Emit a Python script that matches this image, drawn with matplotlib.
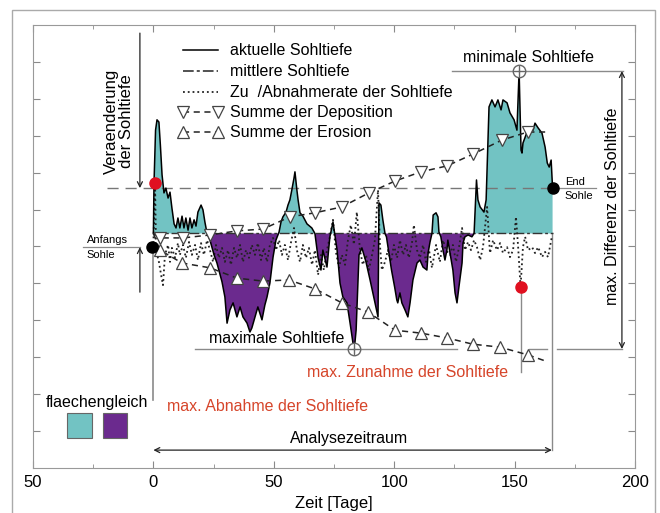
import matplotlib.pyplot as plt
from matplotlib.patches import Rectangle
from matplotlib.ticker import FuncFormatter, MultipleLocator
import numpy as np

plt.rcParams['font.family'] = ['Liberation Sans', 'DejaVu Sans']

# aktuelle Sohltiefe, relativ zur mittleren Sohle (0)
bed_days = [0.0, 0.25, 0.9, 1.5, 2.3, 2.9, 3.6, 4.4, 5.2, 6.1, 6.9, 7.7, 8.6, 9.4, 10.2, 11.0, 11.9, 12.7,
            13.5, 14.4, 15.2, 16.0, 16.9, 17.7, 18.5, 19.8, 20.6, 21.4, 22.3,
            23.5, 25.2, 26.4, 27.7, 28.5, 29.7, 30.6, 31.8, 33.1, 34.7, 36.0, 37.2, 38.9, 40.1, 40.9, 42.2,
            43.4, 45.1, 46.3, 47.2, 48.4, 49.7, 50.9, 52.2,
            53.0, 53.8, 55.1, 55.9, 56.7, 57.5, 58.4, 58.8, 59.6, 60.1, 60.9, 62.1, 63.8, 65.8, 67.1,
            68.4, 69.6, 70.4, 72.1, 73.3, 74.6, 76.3, 77.5, 78.7, 80.4, 81.7, 82.9, 83.5, 84.2, 85.4, 86.6,
            88.3, 90.0, 91.6, 93.3, 93.7, 94.5, 95.3, 96.2,
            96.8, 98.1, 98.9, 100.2, 101.1, 101.5, 102.4, 103.2, 104.5, 105.7, 106.6, 107.8, 109.5, 110.7,
            112.0, 113.6, 114.1, 114.9, 115.7,
            116.2, 117.4, 118.2, 118.6,
            119.4, 120.3, 121.1, 121.9, 122.3, 123.2, 124.4, 125.3, 126.1, 126.9, 128.2, 128.6, 129.4, 130.7,
            132.3, 133.2,
            133.8, 134.2, 134.8, 135.7, 137.3, 138.2, 139.0, 139.4, 140.6, 141.9, 143.1, 144.4, 145.2, 146.9,
            148.1, 149.8, 151.0, 151.9, 152.7, 153.1, 153.5, 155.2, 156.4, 157.7, 158.5, 159.8, 161.4, 162.7,
            163.6, 164.4, 165.2, 165.8]
bed_depth = [0.0, 13.4, 28.0, 30.8, 30.2, 24.0, 15.9, 11.0, 12.3, 9.6, 11.2, 6.9, 2.6, 1.5, 4.2, 1.5, 4.7, 1.5,
             4.2, 0.9, 4.2, 1.5, 3.7, 2.0, 5.8, 7.7, 6.4, 3.1, 0.0,
             -1.8, -5.8, -8.0, -11.2, -13.1, -17.2, -24.3, -20.7, -18.8, -22.6, -19.9, -22.6, -24.3, -26.7, -25.6,
             -22.6, -19.9, -23.4, -19.4, -17.2, -13.4, -6.4, -1.8, 0.4,
             3.1, 4.5, 5.8, 7.7, 9.1, 11.8, 15.0, 16.7, 11.8, 9.1, 5.6, 4.7, 2.6, 1.5, 0.0,
             -6.6, -9.9, -4.5, -9.1, -0.9, 3.1, -4.5, -13.4, -17.2, -18.8, -24.3, -29.7, -31.0, -26.2, -5.8, -3.9,
             -7.7, -12.6, -17.5, -22.6, 8.3, 7.7, 3.7, 0.0,
             -0.9, -6.4, -9.9, -14.5, -18.0, -18.8, -16.1, -18.8, -20.7, -22.6, -18.8, -12.6, -8.0, -7.2,
             -9.1, -9.9, -5.3, -2.3, 0.0,
             5.0, 5.6, 4.5, 0.4,
             -0.9, -4.5, -7.2, -4.5, -1.8, -5.3, -9.9, -16.1, -18.8, -14.5, -8.0, -2.6, -0.9, -0.4,
             -0.9, 0.0,
             9.1, 14.5, 9.1, 7.2, 5.8, 9.1, 25.3, 34.3, 36.2, 34.3, 36.2, 33.5, 36.2, 35.4,
             32.7, 30.8, 28.0, 44.0, 22.6, 21.8, 24.5, 27.5, 28.9, 28.0, 29.9, 28.6, 27.2, 23.4,
             19.1, 18.0, 19.9, 12.3]

# Zu-/Abnahmerate der Sohltiefe
rate_days = [0.0, 0.7, 1.1, 2.3, 3.2, 4.0, 4.8, 6.1, 6.9, 7.7, 9.0, 10.2, 11.0, 12.3, 13.5, 14.8, 16.0, 17.3,
             18.5, 19.8, 21.0, 22.3, 23.5, 24.8, 26.0, 27.2, 28.5, 29.7, 31.0, 32.2, 33.5, 34.7, 36.0, 37.2,
             38.5, 39.7, 40.9, 42.2, 43.4, 44.7, 45.9, 47.2, 48.4, 49.7, 50.9, 52.2, 53.4, 54.6, 55.9, 57.1,
             58.4, 59.6, 60.9, 62.1, 63.4, 64.6, 65.9, 67.1, 68.4, 69.6, 70.8, 72.1, 73.3, 74.6, 75.8, 77.1,
             78.3, 79.6, 80.8, 82.0, 83.3, 84.5, 85.8, 87.0, 88.3, 89.5, 90.8, 92.0, 93.3, 94.1, 94.9, 96.2,
             97.4, 98.7, 99.9, 101.2, 102.4, 103.7, 104.9, 106.1, 107.4, 108.2, 109.5, 110.7, 112.0, 113.2,
             114.5, 115.7, 117.4, 119.0, 120.3, 121.5, 123.2, 124.4, 125.7, 126.9, 128.2, 129.4, 130.7, 131.9,
             133.2, 134.4, 135.7, 136.9, 138.6, 139.8, 141.1, 142.7, 144.0, 145.2, 146.9, 148.1, 149.4, 150.6,
             151.5, 152.5, 153.5, 154.4, 155.6, 157.3, 158.5, 159.8, 161.4, 162.7, 163.9, 164.7, 165.5]
rate = [-2.6, 13.7, -4.5, -7.7, -11.2, -14.0, -5.8, -3.1, -7.7, -3.9, -6.6, -2.6, -5.8, -3.1, -6.6, -2.3, -5.8, -3.1,
        -7.2, -2.6, -5.8, -1.8, -4.5, -7.7, -3.1, -6.6, -3.9, -7.7, -4.5, -8.5, -3.9, -6.6, -3.1, -7.7,
        -4.5, -6.6, -3.1, -5.8, -2.6, -7.2, -3.9, -7.7, -3.1, -1.2, -4.5, -1.8, -5.8, -3.1, -7.2, -2.6,
        1.5, -4.5, -7.7, -3.1, -6.6, -3.9, -8.5, -4.5, -11.2, -5.8, -9.9, -4.5, -0.9, 3.7, -5.0, -9.3,
        -5.8, -8.5, -1.8, 2.3, -3.0, 5.8, -4.5, -8.5, -5.8, -9.9, -5.8, -1.8, 11.8, -3.1, -9.9, -7.7,
        -4.5, -7.7, -3.1, -6.6, -1.8, -5.8, -3.1, -6.6, -2.6, 2.3, -4.5, -6.6, -3.1, -7.7,
        -4.5, -9.3, -3.1, -7.7, -1.8, -4.5, -5.8, -3.1, -7.7, -3.9, 1.5, -4.5, -2.3, -4.5,
        -1.8, -3.7, -7.2, -3.7, 7.2, -5.3, -1.8, -4.5, -2.6, -5.3, -3.7, -6.4, -4.5, 4.5,
        -3.7, -14.5, -3.7, -0.9, -4.5, -3.7, -5.3, -3.7, -6.4, -5.0, -6.4, -3.7, -0.9]

# Summe der Deposition / Erosion
dep_days = [0.0, 2.7, 12.3, 23.5, 34.7, 45.5, 56.7, 67.1, 78.3, 89.5, 100.3, 111.1, 121.9, 132.7, 144.7, 155.5, 163.9]
dep_sum = [0.0, -1.2, -1.2, -0.4, 0.7, 1.2, 4.5, 5.6, 7.2, 11.0, 14.2, 16.7, 18.3, 21.5, 25.3, 27.5, 27.5]
ero_days = [0.0, 2.7, 11.9, 23.5, 34.7, 45.5, 56.3, 67.1, 78.3, 89.2, 100.3, 111.1, 121.9, 132.7, 144.0, 155.6, 163.9]
ero_sum = [0.0, -4.5, -8.0, -9.3, -12.1, -12.9, -12.6, -15.0, -18.8, -21.3, -26.2, -27.0, -28.3, -30.0, -30.8, -32.9, -34.8]

# markante Punkte
start_day, start_level = -0.6, -3.7
end_day, end_level = 166.0, 12.3
red_days = [0.7, 152.5]
red_vals = [13.7, -14.5]
min_day, min_level = 151.9, 44.0
max_day, max_level = 83.5, -31.3

teal = '#72c3c3'
purple = '#6b2a8e'
red_txt = '#d6452a'
grey = '#8a8a8a'

fig = plt.figure(figsize=(6.6, 5.13), dpi=100)
ax = fig.add_axes([0.05, 0.0877, 0.912, 0.8636])

bd = np.array(bed_days)
bv = np.array(bed_depth)
ax.fill_between(bd, bv, 0, where=bv >= 0, interpolate=True, color=teal, lw=0, zorder=1)
ax.fill_between(bd, bv, 0, where=bv <= 0, interpolate=True, color=purple, lw=0, zorder=1)

# mittlere Sohle und Endsohle
ax.plot([0, end_day], [0, 0], color='#333333', lw=1.0, dashes=(7, 2, 2, 2), zorder=3)
ax.plot([-19.3, end_day], [end_level, end_level], color='#777777', lw=1.0, dashes=(8, 5), zorder=2)

ax.plot(rate_days, rate, color='#222222', lw=1.3, ls=':', zorder=3)
ax.plot(bed_days, bed_depth, color='black', lw=1.1, zorder=4)

ax.plot(dep_days, dep_sum, color='#222222', lw=1.1, dashes=(4, 3), marker='v', ms=9,
        mfc='white', mec='#444444', mew=0.9, markevery=list(range(1, len(dep_days) - 1)), zorder=5)
ax.plot(ero_days, ero_sum, color='#222222', lw=1.1, dashes=(4, 3), marker='^', ms=9,
        mfc='white', mec='#444444', mew=0.9, markevery=list(range(1, len(ero_days) - 1)), zorder=5)

# Hilfslinien
ax.plot([0, 0], [-4.5, -45.1], color=grey, lw=1.2, zorder=2)
ax.plot([red_days[1], red_days[1]], [red_vals[1], -37.5], color=grey, lw=1.0, zorder=2)
ax.plot([165.5, 165.5], [0, -58.7], color=grey, lw=1.0, zorder=2)
ax.plot([124.0, 195.0], [min_level, min_level], color=grey, lw=1.0, zorder=2)
ax.plot([17.3, 126.1], [max_level, max_level], color=grey, lw=1.0, zorder=2)
ax.plot([156.0, 163.5], [max_level, max_level], color=grey, lw=1.0, zorder=2)
ax.plot([167.6, 194.6], [max_level, max_level], color=grey, lw=1.0, zorder=2)
ax.plot([-29.2, -5.6], [start_level, start_level], color=grey, lw=0.9, zorder=2)
ax.plot([168.0, 184.0], [end_level, end_level], color=grey, lw=0.9, zorder=2)

arr = dict(arrowstyle='->', color='#222222', lw=0.9, shrinkA=0, shrinkB=0, mutation_scale=9)
ax.annotate('', xy=(-5.6, end_level), xytext=(-5.6, 54.3), arrowprops=arr)
ax.annotate('', xy=(-5.6, start_level), xytext=(-5.6, -15.9), arrowprops=arr)
arr2 = dict(arrowstyle='<->', color='#222222', lw=0.9, shrinkA=0, shrinkB=0, mutation_scale=9)
ax.annotate('', xy=(194.6, min_level), xytext=(194.6, max_level), arrowprops=arr2)
ax.annotate('', xy=(0, -58.7), xytext=(165.5, -58.7), arrowprops=arr2)

# Punkte
ax.plot(red_days, red_vals, 'o', color='#e01020', ms=8, zorder=6)
ax.plot([start_day, end_day], [start_level, end_level], 'o', color='black', ms=8, zorder=6)
ax.plot([min_day, max_day], [min_level, max_level], 'o', mfc='white', mec='#666666', ms=9, mew=1.0, zorder=6)
ax.plot([min_day, max_day], [min_level, max_level], '+', color='#666666', ms=9, mew=1.0, zorder=7)

# Legende
fs = 11.5
leg_y = [49.7, 44.0, 38.3, 32.9, 27.5]
leg_x0, leg_x1, leg_tx = 12.3, 26.8, 31.9
ax.plot([leg_x0, leg_x1], [leg_y[0]] * 2, color='black', lw=1.1)
ax.plot([leg_x0, leg_x1], [leg_y[1]] * 2, color='#222222', lw=1.1, dashes=(7, 2, 2, 2))
ax.plot([leg_x0, leg_x1], [leg_y[2]] * 2, color='#222222', lw=1.3, ls=':')
ax.plot([leg_x0, leg_x1], [leg_y[3]] * 2, color='#222222', lw=1.1, dashes=(4, 3), marker='v', ms=9,
        mfc='white', mec='#444444', mew=0.9)
ax.plot([leg_x0, leg_x1], [leg_y[4]] * 2, color='#222222', lw=1.1, dashes=(4, 3), marker='^', ms=9,
        mfc='white', mec='#444444', mew=0.9)
labels = ['aktuelle Sohltiefe', 'mittlere Sohltiefe', 'Zu  /Abnahmerate der Sohltiefe',
          'Summe der Deposition', 'Summe der Erosion']
for yy, lab in zip(leg_y, labels):
    ax.text(leg_tx, yy, lab, fontsize=fs, va='center', ha='left')

# Beschriftungen
ax.text(-14.3, 30.5, 'Veraenderung\nder Sohltiefe', rotation=90, fontsize=12, ha='center', va='center',
        linespacing=0.95)
ax.text(-27.6, -1.8, 'Anfangs', fontsize=8, ha='left', va='center')
ax.text(-27.6, -5.8, 'Sohle', fontsize=8, ha='left', va='center')
ax.text(170.9, 14.0, 'End', fontsize=8, ha='left', va='center')
ax.text(170.9, 10.2, 'Sohle', fontsize=8, ha='left', va='center')
ax.text(155.6, 45.6, 'minimale Sohltiefe', fontsize=fs, ha='center', va='bottom')
ax.text(51.4, -30.5, 'maximale Sohltiefe', fontsize=fs, ha='center', va='bottom')
ax.text(190.5, 7.5, 'max. Differenz der Sohltiefe', rotation=90, fontsize=fs, ha='center', va='center')
ax.text(147.3, -37.8, 'max. Zunahme der Sohltiefe', fontsize=fs, ha='right', va='center', color=red_txt)
ax.text(5.6, -47.0, 'max. Abnahme der Sohltiefe', fontsize=fs, ha='left', va='center', color=red_txt)
ax.text(81.2, -57.6, 'Analysezeitraum', fontsize=fs, ha='center', va='bottom')
ax.text(-23.4, -45.8, 'flaechengleich', fontsize=fs, ha='center', va='center')
ax.add_patch(Rectangle((-35.9, -55.4), 10.4, 6.8, facecolor=teal, edgecolor='#666666', lw=0.8))
ax.add_patch(Rectangle((-20.9, -55.4), 9.9, 6.8, facecolor=purple, edgecolor='#666666', lw=0.8))

# Achsen
ax.set_xlim(-50, 200)
ax.set_ylim(-63.55, 56.5)
ax.xaxis.set_major_locator(MultipleLocator(50))
ax.xaxis.set_minor_locator(MultipleLocator(25))
ax.xaxis.set_major_formatter(FuncFormatter(lambda v, p: str(abs(int(round(v))))))
ax.set_yticks(np.linspace(-63.55, 56.5, 13)[1:-1])
ax.set_yticklabels([])
ax.tick_params(which='both', direction='in', top=True, right=True, color=grey, labelsize=12, pad=5)
ax.tick_params(which='major', length=5)
ax.tick_params(which='minor', length=3)
for s in ax.spines.values():
    s.set_color('#999999')
ax.set_xlabel('Zeit [Tage]', fontsize=12, labelpad=4)

fig.patches.append(Rectangle((12 / 660, -0.02), 643 / 660, 1.0, transform=fig.transFigure,
                             fill=False, edgecolor='#aaaaaa', lw=1.0))

plt.savefig('out.png', dpi=100)
